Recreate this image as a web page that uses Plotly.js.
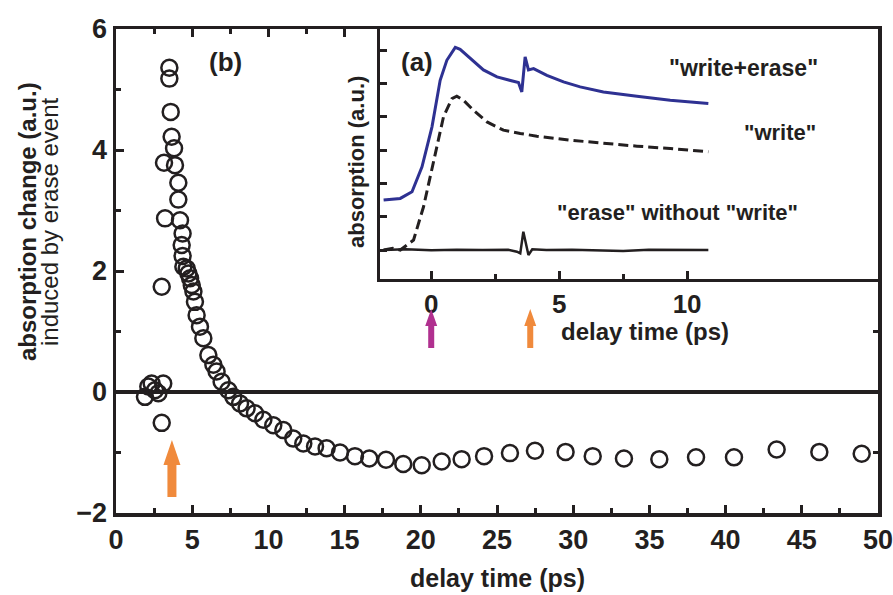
<!DOCTYPE html>
<html>
<head>
<meta charset="utf-8">
<script src="https://cdn.plot.ly/plotly-3.0.1.min.js"></script>
<style>html,body{margin:0;padding:0;background:#fff;}#plot{width:893px;height:595px;}</style>
</head>
<body>
<div id="plot"></div>
<script>
// Main panel (b): absorption change induced by erase event
const mainDelay = [1.90, 2.12, 2.34, 2.56, 2.78, 3.10, 3.00, 3.00, 3.22, 3.15, 3.50, 3.50, 3.59, 3.65, 3.81, 3.87, 4.09, 4.09, 4.20, 4.37, 4.31, 4.37, 4.42, 4.64, 4.75, 4.86, 4.97, 5.08, 5.18, 5.29, 5.51, 5.73, 6.06, 6.39, 6.60, 6.93, 7.37, 7.70, 8.14, 8.57, 9.12, 9.67, 10.32, 10.98, 11.63, 12.29, 13.06, 13.82, 14.70, 15.68, 16.62, 17.72, 18.85, 20.06, 21.37, 22.68, 24.15, 25.85, 27.49, 29.50, 31.28, 33.33, 35.65, 38.06, 40.55, 43.35, 46.15, 48.93];
const mainChange = [-0.08, 0.09, 0.14, 0.03, -0.02, 0.14, -0.51, 1.74, 2.87, 3.79, 5.36, 5.18, 4.63, 4.22, 4.03, 3.75, 3.46, 3.18, 2.84, 2.62, 2.43, 2.25, 2.07, 2.04, 1.96, 1.88, 1.77, 1.66, 1.49, 1.27, 1.08, 0.89, 0.61, 0.45, 0.34, 0.17, 0.03, -0.08, -0.19, -0.27, -0.35, -0.46, -0.55, -0.63, -0.77, -0.85, -0.90, -0.93, -1.00, -1.06, -1.10, -1.12, -1.19, -1.21, -1.15, -1.11, -1.06, -1.01, -0.97, -0.99, -1.06, -1.10, -1.11, -1.08, -1.08, -0.95, -0.99, -1.02];

// Inset (a): absorption traces
const writeEraseDelay = [-1.86, -1.21, -0.75, -0.36, 0.03, 0.35, 0.61, 0.94, 1.13, 1.52, 2.04, 2.57, 3.09, 3.41, 3.54, 3.67, 3.80, 4.00, 4.52, 5.17, 5.82, 6.73, 8.04, 9.34, 10.83];
const writeEraseAbs = [1.50, 1.55, 1.75, 2.50, 3.70, 5.10, 5.70, 6.09, 6.03, 5.76, 5.41, 5.20, 5.10, 5.03, 4.75, 5.80, 5.41, 5.45, 5.25, 5.05, 4.90, 4.75, 4.62, 4.50, 4.40];
const writeDelay = [-1.86, -1.50, -1.21, -0.69, -0.30, 0.09, 0.48, 0.81, 1.00, 1.26, 1.65, 2.18, 2.82, 3.48, 4.13, 5.43, 6.73, 8.04, 9.34, 10.83];
const writeAbs = [0.00, 0.05, 0.00, 0.30, 1.30, 2.70, 4.00, 4.55, 4.62, 4.50, 4.20, 3.85, 3.60, 3.50, 3.42, 3.30, 3.20, 3.12, 3.05, 2.95];
const eraseDelay = [-1.86, -1.00, 0.00, 1.00, 2.00, 3.00, 3.35, 3.48, 3.60, 3.70, 3.80, 3.95, 4.50, 5.50, 6.50, 7.50, 8.50, 9.50, 10.83];
const eraseAbs = [0.00, 0.02, -0.01, 0.01, 0.00, 0.01, -0.05, -0.10, 0.55, 0.20, -0.15, 0.02, 0.00, 0.01, -0.01, -0.03, 0.01, 0.00, 0.00];

const xTickVals = [0, 5, 10, 15, 20, 25, 30, 35, 40, 45, 50];
const yTickVals = [-2, 0, 2, 4, 6];
const insetXTickVals = [0, 5, 10];
const insetXMinorVals = [2.5, 7.5];
const insetYTickVals = [0, 1, 2, 3, 4, 5, 6];

const ink = '#231f20';
const orange = '#f08a3c';
const magenta = '#b0308f';
const FF = 'Liberation Sans, Arial, sans-serif';

const traces = [
  {x: mainDelay, y: mainChange, type: 'scatter', mode: 'markers', xaxis: 'x', yaxis: 'y',
   marker: {symbol: 'circle-open', size: 16, color: ink, line: {width: 2.5, color: ink}}, showlegend: false},
  {x: writeEraseDelay, y: writeEraseAbs, type: 'scatter', mode: 'lines', xaxis: 'x2', yaxis: 'y2',
   line: {color: '#2e3192', width: 3}, showlegend: false},
  {x: writeDelay, y: writeAbs, type: 'scatter', mode: 'lines', xaxis: 'x2', yaxis: 'y2',
   line: {color: ink, width: 3, dash: '10px,5px'}, showlegend: false},
  {x: eraseDelay, y: eraseAbs, type: 'scatter', mode: 'lines', xaxis: 'x2', yaxis: 'y2',
   line: {color: ink, width: 2.5}, showlegend: false}
];

const tickFont = {family: FF, size: 27, color: ink, weight: 'bold'};
const insetTickFont = {family: FF, size: 26, color: ink, weight: 'bold'};
const py = (pix) => (513 - pix) / 484;
const px = (pix) => (pix - 116) / 762;

const bigArrow = 'M0,0 L8.5,-25 L4.5,-25 L4.5,-57 L-4.5,-57 L-4.5,-25 L-8.5,-25 Z';
const smallArrow = 'M0,0 L6,-17 L3,-17 L3,-39 L-3,-39 L-3,-17 L-6,-17 Z';

const layout = {
  width: 893, height: 595,
  margin: {l: 116, r: 15, t: 29, b: 82},
  paper_bgcolor: '#fff', plot_bgcolor: '#fff',
  showlegend: false,
  xaxis: {
    domain: [0, 1], range: [0, 50], tickvals: xTickVals, ticks: 'inside', ticklen: 8, tickwidth: 3, tickcolor: ink,
    minor: {dtick: 2.5, ticks: 'inside', ticklen: 5, tickwidth: 3, tickcolor: ink},
    showline: true, linewidth: 3.5, linecolor: ink, mirror: 'allticks', showgrid: false, zeroline: false,
    tickfont: tickFont, ticklabeloverflow: 'allow', anchor: 'y'
  },
  yaxis: {
    domain: [0, 1], range: [-2, 6], tickvals: yTickVals, ticks: 'inside', ticklen: 8, tickwidth: 3, tickcolor: ink,
    minor: {dtick: 1, ticks: 'inside', ticklen: 5, tickwidth: 3, tickcolor: ink},
    showline: true, linewidth: 3.5, linecolor: ink, mirror: 'allticks', showgrid: false,
    zeroline: true, zerolinecolor: ink, zerolinewidth: 3.5,
    tickfont: tickFont, ticklabeloverflow: 'allow', anchor: 'x'
  },
  xaxis2: {
    domain: [0.3465, 1], range: [-2, 17.46], tickvals: insetXTickVals, ticks: 'inside', ticklen: 8, tickwidth: 3, tickcolor: ink,
    minor: {tickvals: insetXMinorVals, ticks: 'inside', ticklen: 5, tickwidth: 3, tickcolor: ink},
    showline: true, linewidth: 3, linecolor: ink, showgrid: false, zeroline: false,
    tickfont: insetTickFont, ticklabelstandoff: 0, anchor: 'y2'
  },
  yaxis2: {
    domain: [0.4835, 1], range: [-0.87, 6.64], tickvals: insetYTickVals, ticks: 'inside', ticklen: 7, tickwidth: 3, tickcolor: ink,
    showticklabels: false, showline: true, linewidth: 3, linecolor: ink, showgrid: false, zeroline: false, anchor: 'x2'
  },
  shapes: [
    {type: 'path', xref: 'x', yref: 'paper', xsizemode: 'pixel', ysizemode: 'pixel', xanchor: 3.67, yanchor: py(440),
     path: bigArrow, fillcolor: orange, line: {width: 0}},
    {type: 'path', xref: 'x2', yref: 'paper', xsizemode: 'pixel', ysizemode: 'pixel', xanchor: 0, yanchor: py(309),
     path: smallArrow, fillcolor: magenta, line: {width: 0}},
    {type: 'path', xref: 'x2', yref: 'paper', xsizemode: 'pixel', ysizemode: 'pixel', xanchor: 3.87, yanchor: py(309),
     path: smallArrow, fillcolor: orange, line: {width: 0}}
  ],
  annotations: [
    {text: 'delay time (ps)', xref: 'paper', yref: 'paper', x: 0.5, y: py(578), xanchor: 'center', yanchor: 'middle', showarrow: false,
     font: {family: FF, size: 25, color: ink, weight: 'bold'}},
    {text: 'absorption change (a.u.)', xref: 'paper', yref: 'paper', x: px(28), y: py(222), xanchor: 'center', yanchor: 'middle', textangle: -90, showarrow: false,
     font: {family: FF, size: 24, color: ink, weight: 'bold'}},
    {text: 'induced by erase event', xref: 'paper', yref: 'paper', x: px(50), y: py(222), xanchor: 'center', yanchor: 'middle', textangle: -90, showarrow: false,
     font: {family: FF, size: 24, color: ink}},
    {text: '(b)', xref: 'paper', yref: 'paper', x: px(225), y: py(62), xanchor: 'center', yanchor: 'middle', showarrow: false,
     font: {family: FF, size: 26, color: ink, weight: 'bold'}},
    {text: '(a)', xref: 'paper', yref: 'paper', x: px(417), y: py(62), xanchor: 'center', yanchor: 'middle', showarrow: false,
     font: {family: FF, size: 26, color: ink, weight: 'bold'}},
    {text: '"write+erase"', xref: 'paper', yref: 'paper', x: px(743), y: py(68), xanchor: 'center', yanchor: 'middle', showarrow: false,
     font: {family: FF, size: 23, color: ink, weight: 'bold'}},
    {text: '"write"', xref: 'paper', yref: 'paper', x: px(780), y: py(133), xanchor: 'center', yanchor: 'middle', showarrow: false,
     font: {family: FF, size: 22, color: ink, weight: 'bold'}},
    {text: '"erase" without "write"', xref: 'paper', yref: 'paper', x: px(677), y: py(212), xanchor: 'center', yanchor: 'middle', showarrow: false,
     font: {family: FF, size: 22, color: ink, weight: 'bold'}},
    {text: 'absorption (a.u.)', xref: 'paper', yref: 'paper', x: px(356), y: py(162), xanchor: 'center', yanchor: 'middle', textangle: -90, showarrow: false,
     font: {family: FF, size: 22, color: ink, weight: 'bold'}},
    {text: 'delay time (ps)', xref: 'paper', yref: 'paper', x: px(645), y: py(331), xanchor: 'center', yanchor: 'middle', showarrow: false,
     font: {family: FF, size: 24, color: ink, weight: 'bold'}}
  ]
};

Plotly.newPlot('plot', traces, layout, {displayModeBar: false, staticPlot: true});
</script>
</body>
</html>
